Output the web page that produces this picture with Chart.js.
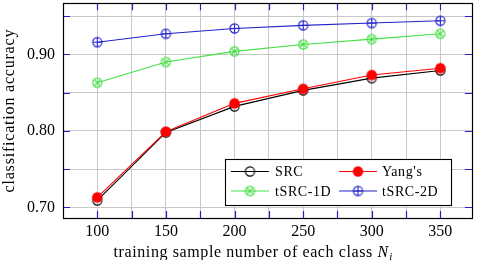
<!DOCTYPE html>
<html>
<head>
<meta charset="utf-8">
<script src="https://cdn.jsdelivr.net/npm/chart.js@4.4.1/dist/chart.umd.min.js"></script>
<style>
html,body{margin:0;padding:0;background:#fff;overflow:hidden;}
#wrap{width:478px;height:266px;position:relative;margin-top:-6px;}
</style>
</head>
<body>
<div id="wrap"><canvas id="c"></canvas></div>
<script>
const samples = [100, 150, 200, 250, 300, 350];
const srcAcc   = [0.709, 0.798, 0.832, 0.853, 0.869, 0.879];
const yangAcc  = [0.713, 0.799, 0.836, 0.855, 0.873, 0.882];
const tsrc1d   = [0.863, 0.890, 0.904, 0.913, 0.920, 0.927];
const tsrc2d   = [0.916, 0.927, 0.934, 0.938, 0.941, 0.944];
const seriesNames = ["SRC", "Yang's", "tSRC-1D", "tSRC-2D"];
const xTickValues = [100, 125, 150, 175, 200, 225, 250, 275, 300, 325, 350];
const xLabelValues = [100, 150, 200, 250, 300, 350];
const yTickValues = [0.70, 0.75, 0.80, 0.85, 0.90, 0.95];
const yLabelValues = [0.70, 0.80, 0.90];
const xTitle = "training sample number of each class ";
const yTitle = "classification accuracy";

const BLACK = '#000000', RED = '#ff0000', GREEN = '#44e044', BLUE = '#2222cc';
const OY = 6; // canvas is shifted up by this many pixels

function markerCanvas(kind, color) {
  const s = 15, c = document.createElement('canvas');
  c.width = s; c.height = s;
  const g = c.getContext('2d');
  const m = s / 2;
  g.lineWidth = 1.1;
  g.strokeStyle = color;
  g.fillStyle = color;
  const r = kind === 'filled' ? 5.2 : 4.6;
  g.beginPath(); g.arc(m, m, r, 0, Math.PI * 2);
  if (kind === 'filled') { g.fill(); }
  else { g.stroke(); }
  if (kind === 'times') {
    const d = r * 0.7071;
    g.beginPath();
    g.moveTo(m - d, m - d); g.lineTo(m + d, m + d);
    g.moveTo(m - d, m + d); g.lineTo(m + d, m - d);
    g.stroke();
  } else if (kind === 'plus') {
    g.beginPath();
    g.moveTo(m - r, m); g.lineTo(m + r, m);
    g.moveTo(m, m - r); g.lineTo(m, m + r);
    g.stroke();
  }
  return c;
}
const mk = [
  markerCanvas('open', BLACK),
  markerCanvas('filled', RED),
  markerCanvas('times', GREEN),
  markerCanvas('plus', BLUE)
];
const colors = [BLACK, RED, GREEN, BLUE];
const values = [srcAcc, yangAcc, tsrc1d, tsrc2d];
const orders = [1, 0, 2, 3];

const datasets = values.map((v, i) => ({
  label: seriesNames[i],
  data: samples.map((x, j) => ({x: x, y: v[j]})),
  borderColor: colors[i],
  borderWidth: 1.1,
  pointStyle: mk[i],
  pointRadius: 5,
  pointHoverRadius: 5,
  tension: 0,
  fill: false,
  order: orders[i]
}));

const FONT = '"Liberation Serif", "Times New Roman", serif';
const isYLabel = v => yLabelValues.some(t => Math.abs(t - v) < 1e-9);

const deco = {
  id: 'deco',
  beforeDatasetsDraw(chart) {
    const {ctx, chartArea: a, scales} = chart;
    ctx.save();
    ctx.strokeStyle = BLUE;
    ctx.lineWidth = 1.2;
    const L = 7;
    xTickValues.forEach(v => {
      const x = Math.round(scales.x.getPixelForValue(v)) + 0.5;
      ctx.beginPath();
      ctx.moveTo(x, a.bottom); ctx.lineTo(x, a.bottom - L);
      ctx.moveTo(x, a.top); ctx.lineTo(x, a.top + L);
      ctx.stroke();
    });
    yTickValues.forEach(v => {
      const y = Math.round(scales.y.getPixelForValue(v)) + 0.5;
      ctx.beginPath();
      ctx.moveTo(a.left, y); ctx.lineTo(a.left + L, y);
      ctx.moveTo(a.right, y); ctx.lineTo(a.right - L, y);
      ctx.stroke();
    });
    ctx.strokeStyle = '#000';
    ctx.lineWidth = 1.2;
    ctx.strokeRect(Math.round(a.left) + 0.5, Math.round(a.top) + 0.5,
      Math.round(a.right - a.left), Math.round(a.bottom - a.top));
    ctx.restore();
  },
  afterDraw(chart) {
    const {ctx, chartArea: a} = chart;
    ctx.save();
    ctx.fillStyle = '#000';
    ctx.textBaseline = 'alphabetic';
    ctx.font = '16px ' + FONT;
    ctx.letterSpacing = '0.6px';
    const w1 = ctx.measureText(xTitle).width;
    ctx.font = 'italic 16px ' + FONT;
    const w2 = ctx.measureText('N').width;
    ctx.font = 'italic 11px ' + FONT;
    const w3 = ctx.measureText('i').width;
    const total = w1 + w2 + w3 + 1;
    const cx = (a.left + a.right) / 2 - 14;
    let x = cx - total / 2;
    const yb = 257 + OY;
    ctx.textAlign = 'left';
    ctx.font = '16px ' + FONT;
    ctx.fillText(xTitle, x, yb);
    x += w1;
    ctx.font = 'italic 16px ' + FONT;
    ctx.fillText('N', x, yb);
    x += w2 + 0.5;
    ctx.font = 'italic 11px ' + FONT;
    ctx.fillText('i', x, yb + 3);
    ctx.font = '16px ' + FONT;
    ctx.letterSpacing = '0.8px';
    ctx.translate(14, (a.top + a.bottom) / 2);
    ctx.rotate(-Math.PI / 2);
    ctx.textAlign = 'center';
    ctx.fillText(yTitle, 0, 0);
    ctx.restore();

    ctx.save();
    const bx = 225, by = 159 + OY, bw = 226, bh = 46;
    ctx.fillStyle = '#fff';
    ctx.fillRect(bx, by, bw, bh);
    ctx.strokeStyle = '#000';
    ctx.lineWidth = 1.1;
    ctx.strokeRect(bx + 0.5, by + 0.5, bw, bh);
    const cols = [{x0: 231, x1: 269, tx: 275}, {x0: 339, x1: 377, tx: 382}];
    const rows = [171.5 + OY, 191 + OY];
    ctx.font = '14px ' + FONT;
    ctx.letterSpacing = '0.6px';
    ctx.textBaseline = 'middle';
    ctx.textAlign = 'left';
    for (let i = 0; i < 4; i++) {
      const c = cols[i % 2], y = rows[Math.floor(i / 2)];
      ctx.strokeStyle = colors[i];
      ctx.lineWidth = 1.1;
      ctx.beginPath();
      ctx.moveTo(c.x0, y); ctx.lineTo(c.x1, y);
      ctx.stroke();
      const cm = (c.x0 + c.x1) / 2;
      ctx.drawImage(mk[i], cm - mk[i].width / 2, y - mk[i].height / 2);
      ctx.fillStyle = '#000';
      ctx.fillText(seriesNames[i], c.tx, y + 1);
    }
    ctx.restore();
  }
};

new Chart(document.getElementById('c'), {
  type: 'line',
  data: {datasets},
  options: {
    responsive: true,
    maintainAspectRatio: false,
    animation: false,
    events: [],
    layout: {padding: {left: 0, right: 6, top: 0, bottom: 0}},
    plugins: {legend: {display: false}, tooltip: {enabled: false}},
    scales: {
      x: {
        type: 'linear',
        min: 75, max: 373,
        afterBuildTicks: s => { s.ticks = xTickValues.map(v => ({value: v})); },
        afterFit: s => { s.height = 42; },
        grid: {color: '#c8c8c8', lineWidth: 1, drawTicks: false},
        border: {display: false},
        ticks: {
          autoSkip: false, maxRotation: 0, padding: 4, color: '#000',
          font: {family: FONT, size: 16},
          callback: v => xLabelValues.includes(v) ? String(v) : ''
        }
      },
      y: {
        type: 'linear',
        min: 0.686, max: 0.967,
        afterBuildTicks: s => { s.ticks = yTickValues.map(v => ({value: v})); },
        afterFit: s => { s.width = 63; },
        grid: {color: '#c8c8c8', lineWidth: 1, drawTicks: false},
        border: {display: false},
        ticks: {
          autoSkip: false, padding: 8, color: '#000',
          font: c => ({family: FONT, size: (c.tick && isYLabel(c.tick.value)) ? 16 : 2}),
          callback: v => isYLabel(v) ? v.toFixed(2) : ''
        }
      }
    }
  },
  plugins: [deco]
});
</script>
</body>
</html>
